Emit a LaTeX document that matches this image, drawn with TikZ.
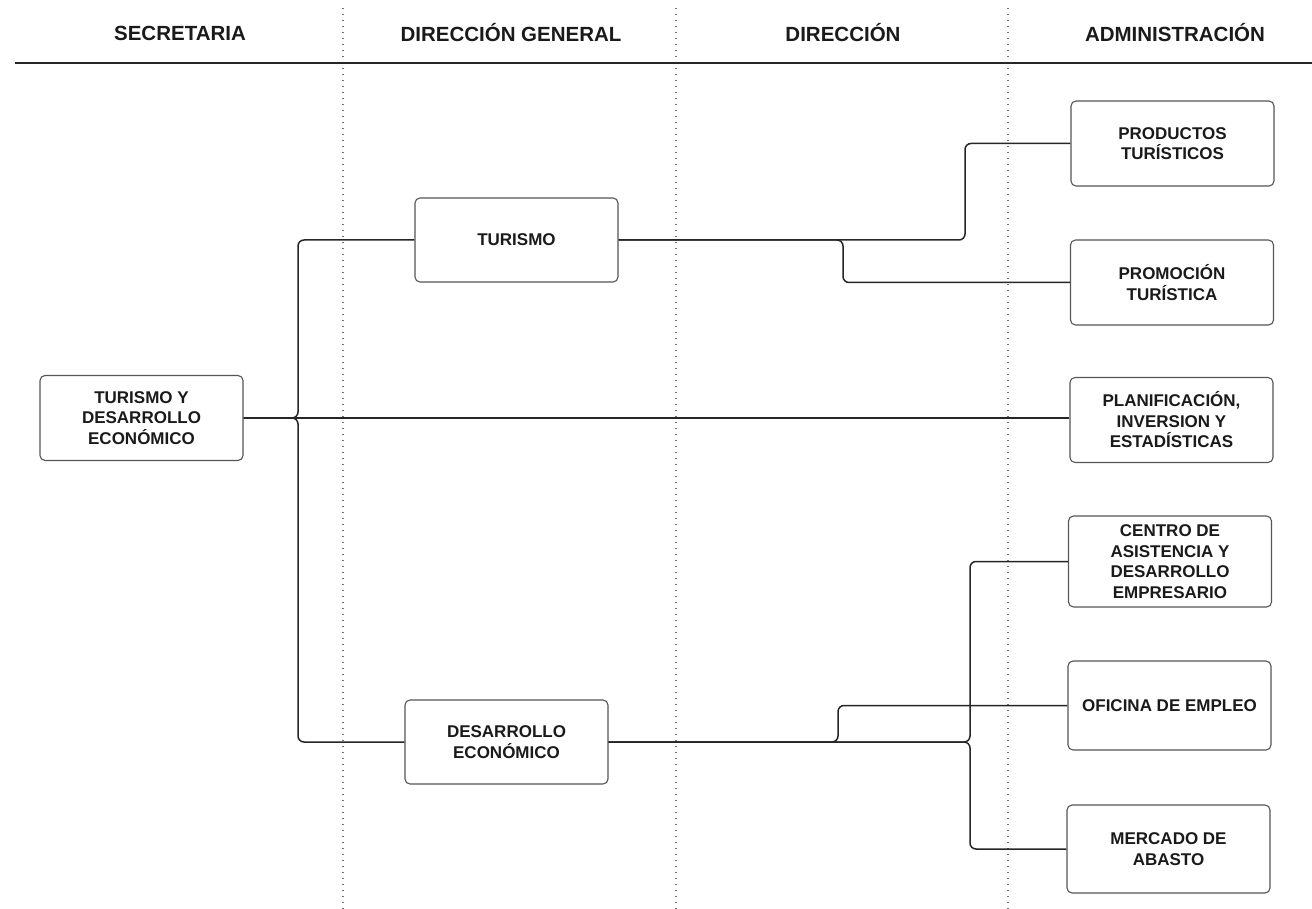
\documentclass[tikz,border=0pt]{standalone}
\usepackage{fontspec}
\setmainfont{Liberation Sans}
\definecolor{ink}{HTML}{1A1A1A}
\definecolor{edgegray}{HTML}{555555}
\definecolor{conn}{HTML}{262626}
\definecolor{dotgray}{HTML}{707070}
\begin{document}
\begin{tikzpicture}[x=1pt,y=-1pt,
  unit/.style={draw=edgegray, line width=1.1pt, rounded corners=5pt, minimum width=203pt, minimum height=85pt, align=center, font=\fontsize{17}{20.5}\selectfont\bfseries, text=ink, inner sep=0pt},
  hdr/.style={font=\fontsize{20.5}{24}\selectfont\bfseries, text=ink, inner sep=0pt},
  link/.style={draw=conn, line width=1.5pt, rounded corners=6pt},
  sepline/.style={draw=dotgray, line width=1.3pt, dash pattern=on 1.3pt off 4.7pt},
  rule/.style={draw=conn, line width=1.3pt}]
\useasboundingbox (0,0) rectangle (1312,909);

% column separators
\draw[sepline] (343,8) -- (343,909);
\draw[sepline] (676,8) -- (676,909);
\draw[sepline] (1008,8) -- (1008,909);

% headers
\node[hdr] (h1) at (180,33) {SECRETARIA};
\node[hdr] (h2) at (511,33) {DIRECCIÓN GENERAL};
\node[hdr] (h3) at (843,33) {DIRECCIÓN};
\node[hdr] (h4) at (1175,33) {ADMINISTRACIÓN};
\draw[rule] (15,63) -- (1312,63);

% boxes
\node[unit] (tyd) at (141.5,418) {TURISMO Y\\DESARROLLO\\ECONÓMICO};
\node[unit, minimum height=84pt] (tur) at (516.5,240) {TURISMO};
\node[unit, minimum height=84pt] (des) at (506.5,742) {DESARROLLO\\ECONÓMICO};
\node[unit] (prod) at (1172.5,143.5) {PRODUCTOS\\TURÍSTICOS};
\node[unit] (promo) at (1172,282.5) {PROMOCIÓN\\TURÍSTICA};
\node[unit] (plan) at (1171.5,420) {PLANIFICACIÓN,\\INVERSION Y\\ESTADÍSTICAS};
\node[unit, minimum height=91pt] (centro) at (1170,561.5) {CENTRO DE\\ASISTENCIA Y\\DESARROLLO\\EMPRESARIO};
\node[unit, minimum height=89pt] (ofi) at (1169.5,705.5) {OFICINA DE EMPLEO};
\node[unit, minimum height=88pt] (merc) at (1168.5,849) {MERCADO DE\\ABASTO};

% junctions
\coordinate (j1) at (298,418);
\coordinate (j2) at (965,240);
\coordinate (j3) at (843,240);
\coordinate (j4) at (970,742);
\coordinate (j5) at (838,742);

% connectors
\draw[link] (tyd.east) -- (j1) |- (tur.west);
\draw[link] (tyd.east) -- (j1) |- (des.west);
\draw[link] (tyd.east) -- (tyd.east -| plan.west);
\draw[link] (tur.east) -- (j2) |- (prod.west);
\draw[link] (tur.east) -- (j3) |- (promo.west);
\draw[link] (des.east) -- (j4) |- (centro.west);
\draw[link] (des.east) -- (j4) |- (merc.west);
\draw[link] (des.east) -- (j5) |- (ofi.west);
\end{tikzpicture}
\end{document}
